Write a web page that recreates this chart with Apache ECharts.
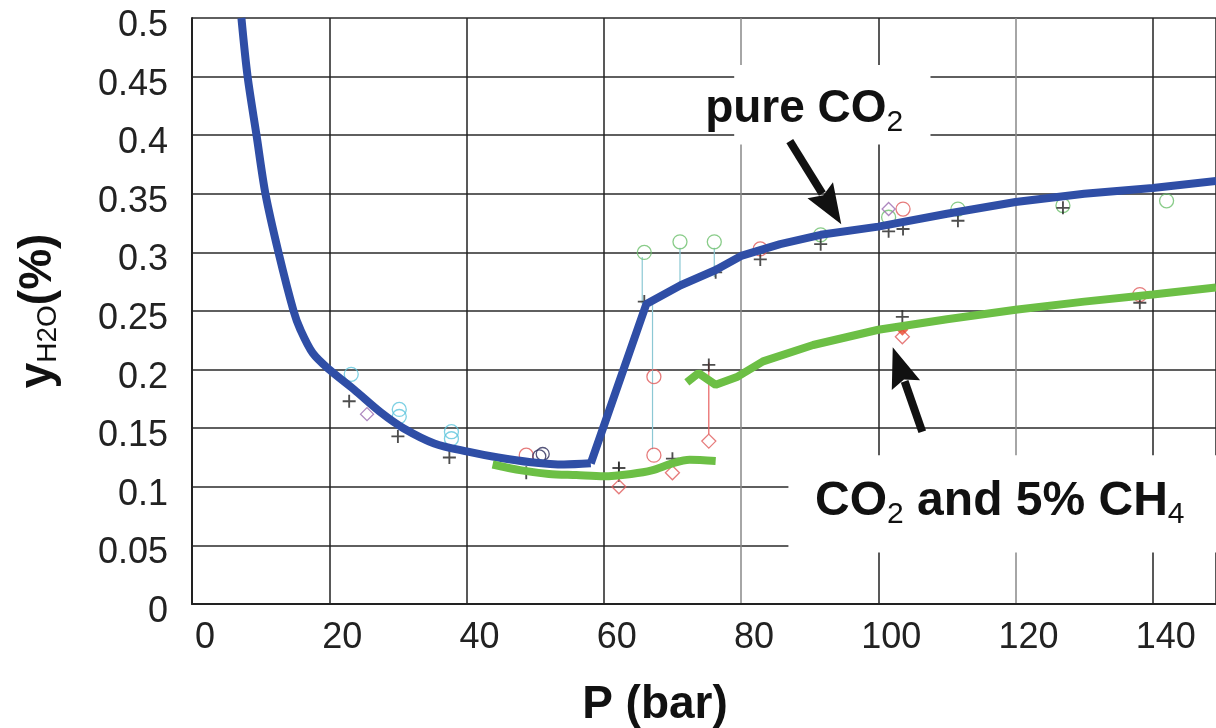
<!DOCTYPE html>
<html>
<head>
<meta charset="utf-8">
<script src="https://cdn.jsdelivr.net/npm/echarts@6/dist/echarts.min.js"></script>
<style>
  html, body { margin: 0; padding: 0; background: #fff; }
  #chart { width: 1216px; height: 728px; }
</style>
</head>
<body>
<div id="chart"></div>
<script>
// model curves, [P (bar), y H2O (%)]
const pureCO2Low = [
  [7.2, 0.5], [8.1, 0.45], [9.4, 0.4], [10.7, 0.35], [12.6, 0.3], [14.8, 0.25],
  [15.8, 0.234], [17.6, 0.214], [20, 0.2], [23.6, 0.183], [27.6, 0.163], [30.8, 0.15],
  [35.3, 0.137], [40.2, 0.13], [44.6, 0.125], [49.4, 0.121], [54.2, 0.119], [58.1, 0.12]
];
const pureCO2High = [
  [58.1, 0.12], [66.2, 0.256], [71.2, 0.272], [76.3, 0.285], [80, 0.297], [85.7, 0.307],
  [91.6, 0.315], [100, 0.322], [110, 0.333], [120, 0.343], [130, 0.35], [140, 0.355], [149.2, 0.361]
];
const ch4CurveLow = [
  [43.8, 0.119], [48, 0.114], [52, 0.111], [56, 0.110], [60, 0.109], [64, 0.111],
  [67, 0.114], [70, 0.12], [72.5, 0.123], [76.3, 0.122]
];
const ch4CurveHigh = [
  [72.1, 0.189], [73.8, 0.197], [76.3, 0.187], [79.5, 0.194], [83.2, 0.207], [90.5, 0.221],
  [100, 0.234], [110, 0.243], [120, 0.251], [130, 0.258], [140, 0.264], [149.2, 0.27]
];

// experimental points
const plusPoints = [
  [22.9, 0.173], [30, 0.143], [37.5, 0.125], [48.7, 0.112], [62.2, 0.116], [65.9, 0.258],
  [70, 0.124], [75.3, 0.204], [76.3, 0.283], [82.8, 0.294], [91.6, 0.307], [101.5, 0.318],
  [103.6, 0.320], [111.6, 0.327], [103.5, 0.245], [126.9, 0.338], [138.1, 0.257]
];
const cyanCircles = [[23.2, 0.196], [30.2, 0.166], [30.2, 0.160], [37.8, 0.147], [37.8, 0.141]];
const greenCircles = [
  [65.9, 0.300], [71.1, 0.309], [76.1, 0.309], [91.6, 0.315], [101.5, 0.330],
  [111.6, 0.337], [126.9, 0.340], [142, 0.344]
];
const redCircles = [[48.7, 0.127], [67.3, 0.194], [67.3, 0.127], [82.8, 0.303], [103.6, 0.337], [138.1, 0.264]];
const darkCircles = [[51.1, 0.128], [50.6, 0.126]];
const purpleMarks = [[25.5, 0.162], [101.5, 0.337]];
const redDiamonds = [[62.2, 0.100], [70, 0.112], [75.3, 0.139], [103.5, 0.228]];
const redFilled = [[103.5, 0.234]];

// thin connector lines [P, yFrom, yTo]
const cyanLinks = [[65.6, 0.296, 0.256], [67.1, 0.256, 0.132], [71.1, 0.304, 0.274], [76.1, 0.304, 0.279]];
const redLinks = [[75.3, 0.206, 0.145]];
const blackLinks = [[62.2, 0.121, 0.104]];

const xTicks = [0, 20, 40, 60, 80, 100, 120, 140];
const yTicks = [0, 0.05, 0.1, 0.15, 0.2, 0.25, 0.3, 0.35, 0.4, 0.45, 0.5];

const FONT = 'Liberation Sans';
const plusPath = 'path://M-1,-7H1V7H-1Z M-7,-1H7V1H-7Z';

function linkSeries(list, color) {
  return list.map(function (l) {
    return {
      type: 'line', data: [[l[0], l[1]], [l[0], l[2]]], showSymbol: false, silent: true,
      lineStyle: { color: color, width: 1.2 }, z: 3
    };
  });
}
function markSeries(data, symbol, color, size, filled) {
  return {
    type: 'scatter', data: data, symbol: symbol, symbolSize: size, z: 4,
    itemStyle: filled ? { color: color } : { color: 'rgba(255,255,255,0)', borderColor: color, borderWidth: 1.3 }
  };
}

const chart = echarts.init(document.getElementById('chart'));
chart.setOption({
  animation: false,
  backgroundColor: '#fff',
  grid: { left: 192, right: 0, top: 18, bottom: 124, outerBoundsMode: 'none', containLabel: false },
  xAxis: {
    type: 'value', min: 0, max: 149.2, interval: 20,
    name: 'P (bar)', nameLocation: 'middle', nameGap: 78,
    nameTextStyle: { fontFamily: FONT, fontSize: 46, fontWeight: 'bold', color: '#111', padding: [0, 98, 0, 0] },
    axisLine: { show: true, lineStyle: { color: '#222', width: 2 } },
    axisTick: { show: false },
    axisLabel: {
      fontFamily: FONT, fontSize: 36, color: '#222', margin: 16, padding: [0, 0, 0, 26],
      showMaxLabel: false,
      formatter: function (v) { return xTicks.indexOf(v) >= 0 ? String(v) : ''; }
    },
    splitLine: { show: true, lineStyle: { color: ['#222', '#222', '#222', '#222', '#888', '#222', '#888', '#222'], width: 1.5 } }
  },
  yAxis: {
    type: 'value', min: 0, max: 0.5, interval: 0.05,
    name: '{a|y}{s|H2O}{a|(%)}', nameLocation: 'middle', nameGap: 130, nameRotate: 90,
    nameTextStyle: {
      rich: {
        a: { fontFamily: FONT, fontSize: 46, fontWeight: 'bold', color: '#111' },
        s: { fontFamily: FONT, fontSize: 28, color: '#111', padding: [20, 0, 0, 0] }
      }
    },
    axisLine: { show: true, lineStyle: { color: '#222', width: 2 } },
    axisTick: { show: false },
    axisLabel: {
      margin: 24,
      formatter: function (v) {
        const t = yTicks.find(function (k) { return Math.abs(k - v) < 1e-9; });
        return t === undefined ? '' : '{v|' + t + '}';
      },
      rich: { v: { fontFamily: FONT, fontSize: 36, color: '#222', padding: [16, 0, 0, 0] } }
    },
    splitLine: { show: true, lineStyle: { color: '#2a2a2a', width: 1.5 } }
  },
  series: [
    { type: 'line', data: pureCO2Low, smooth: 0.3, showSymbol: false, lineStyle: { color: '#2f4ea6', width: 8 }, z: 5 },
    { type: 'line', data: pureCO2High, showSymbol: false, lineStyle: { color: '#2f4ea6', width: 8 }, z: 5 },
    { type: 'line', data: ch4CurveLow, smooth: 0.3, showSymbol: false, lineStyle: { color: '#6cbf45', width: 8 }, z: 5 },
    { type: 'line', data: ch4CurveHigh, showSymbol: false, lineStyle: { color: '#6cbf45', width: 8 }, z: 5 }
  ].concat(
    linkSeries(cyanLinks, '#8cc8d4'),
    linkSeries(redLinks, '#e86060'),
    linkSeries(blackLinks, '#222'),
    [
      markSeries(cyanCircles, 'circle', '#5cc4dc', 14, false),
      markSeries(greenCircles, 'circle', '#6cbf6c', 14, false),
      markSeries(redCircles, 'circle', '#e05a5a', 14, false),
      markSeries(darkCircles, 'circle', '#2a2a5a', 13, false),
      markSeries(purpleMarks, 'diamond', '#9a6ab0', 13, false),
      markSeries(redDiamonds, 'diamond', '#e05a5a', 14, false),
      markSeries(redFilled, 'diamond', '#e8452a', 12, true),
      markSeries(plusPoints, plusPath, '#222', 13, true)
    ]
  )
});

// annotations placed in data coordinates
const labels = [
  { box: [79, 0.460, 107.6, 0.392], at: [89.2, 0.422], size: 46, text: '{a|pure CO}{s|2}' },
  { box: [86.9, 0.127, 160, 0.044], at: [117.7, 0.087], size: 48, text: '{a|CO}{s|2}{a| and 5% CH}{s|4}' }
];
const arrows = [
  { from: [87.1, 0.395], to: [94.6, 0.324] },
  { from: [106.4, 0.147], to: [102.1, 0.219] }
];

function px(p) { return chart.convertToPixel({ gridIndex: 0 }, p); }
const graphics = [];
labels.forEach(function (l) {
  const a = px([l.box[0], l.box[1]]), b = px([l.box[2], l.box[3]]);
  graphics.push({ type: 'rect', shape: { x: a[0], y: a[1], width: b[0] - a[0], height: b[1] - a[1] }, style: { fill: '#fff' }, z: 100 });
  const c = px(l.at);
  graphics.push({
    type: 'text', x: c[0], y: c[1], z: 101,
    style: {
      text: l.text, align: 'center', verticalAlign: 'middle',
      rich: {
        a: { fontFamily: FONT, fontSize: l.size, fontWeight: 'bold', fill: '#111' },
        s: { fontFamily: FONT, fontSize: 30, fontWeight: 'normal', fill: '#111', padding: [26, 0, 0, 0] }
      }
    }
  });
});
arrows.forEach(function (ar) {
  const s = px(ar.from), t = px(ar.to);
  const dx = t[0] - s[0], dy = t[1] - s[1], len = Math.sqrt(dx * dx + dy * dy);
  const ux = dx / len, uy = dy / len, nx = -uy, ny = ux;
  const headLen = 40, headW = 15;
  const bx = t[0] - ux * headLen, by = t[1] - uy * headLen;
  graphics.push({ type: 'line', shape: { x1: s[0], y1: s[1], x2: bx + ux * 4, y2: by + uy * 4 }, style: { stroke: '#111', lineWidth: 8 }, z: 102 });
  graphics.push({
    type: 'polygon', z: 102,
    shape: { points: [t, [bx + nx * headW, by + ny * headW], [bx + ux * 6, by + uy * 6], [bx - nx * headW, by - ny * headW]] },
    style: { fill: '#111' }
  });
});
chart.setOption({ graphic: graphics });
</script>
</body>
</html>
